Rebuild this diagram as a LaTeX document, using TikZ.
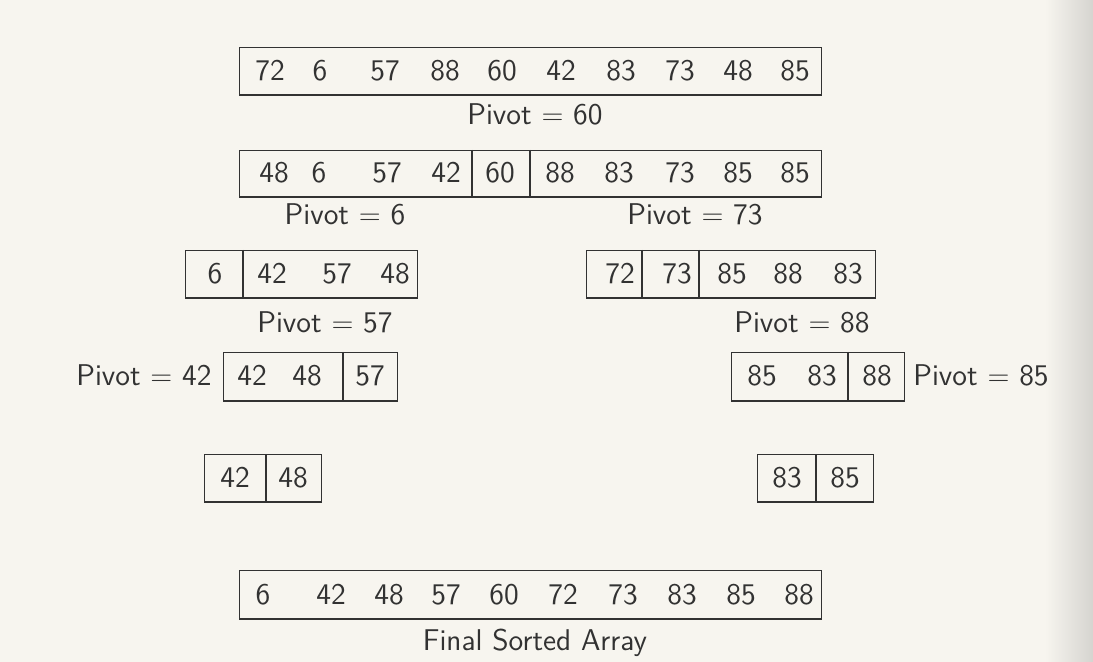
\documentclass[tikz,border=0pt]{standalone}
\definecolor{paper}{RGB}{247,245,239}
\definecolor{ink}{RGB}{50,50,50}
\begin{document}
\begin{tikzpicture}[x=0.5pt,y=-0.5pt,
  arr/.style={draw=ink, line width=0.65pt, inner sep=0pt, anchor=north west},
  num/.style={text=ink, font=\fontsize{15}{18}\sffamily, inner sep=0pt, anchor=base},
  lab/.style={text=ink, font=\fontsize{15}{18}\sffamily, inner sep=0pt, anchor=base},
  dv/.style={draw=ink, line width=0.6pt},
  btm/.style={draw=ink, line width=1.1pt}]
\fill[paper] (0,0) rectangle (1093,662);
\shade[left color=paper, right color=gray!28!paper] (1045,0) rectangle (1093,662);
\useasboundingbox (0,0) rectangle (1093,662);

% row 1
\node[arr, minimum width=291pt, minimum height=23.5pt] (b1) at (239,47) {};
\foreach \x/\t [count=\i] in {270/72,320/6,385/57,445/88,502/60,561/42,621/83,680/73,738/48,795/85}
  \node[num] (r1n\i) at (\x,80.5) {\t};
\node[lab] (p60) at (535,125) {Pivot $=$ 60};

% row 2
\node[arr, minimum width=291pt, minimum height=23pt] (b2) at (239,150) {};
\draw[dv] (b2.north -| 472,0) -- (b2.south -| 472,0);
\draw[dv] (b2.north -| 530,0) -- (b2.south -| 530,0);
\foreach \x/\t [count=\i] in {274/48,319/6,387/57,446/42,500/60,560/88,619/83,680/73,738/85,795/85}
  \node[num] (r2n\i) at (\x,183) {\t};
\node[lab] (p6) at (345,225) {Pivot $=$ 6};
\node[lab] (p73) at (695,225) {Pivot $=$ 73};

% row 3
\node[arr, minimum width=116pt, minimum height=23.5pt] (b3l) at (185,250) {};
\draw[dv] (b3l.north -| 243,0) -- (b3l.south -| 243,0);
\foreach \x/\t [count=\i] in {215/6,272/42,337/57,395/48}
  \node[num] (r3ln\i) at (\x,283.5) {\t};
\node[arr, minimum width=144.5pt, minimum height=23.5pt] (b3r) at (586,250) {};
\draw[dv] (b3r.north -| 642,0) -- (b3r.south -| 642,0);
\draw[dv] (b3r.north -| 699,0) -- (b3r.south -| 699,0);
\foreach \x/\t [count=\i] in {620/72,677/73,732/85,788/88,848/83}
  \node[num] (r3rn\i) at (\x,283.5) {\t};
\node[lab] (p57) at (325,333) {Pivot $=$ 57};
\node[lab] (p88) at (802,333) {Pivot $=$ 88};

% row 4
\node[arr, minimum width=87pt, minimum height=24pt] (b4l) at (223,352) {};
\draw[dv] (b4l.north -| 343,0) -- (b4l.south -| 343,0);
\foreach \x/\t [count=\i] in {252/42,307/48,370/57}
  \node[num] (r4ln\i) at (\x,386) {\t};
\node[lab, anchor=base east] (p42) at (212,386) {Pivot $=$ 42};
\node[arr, minimum width=86.5pt, minimum height=24pt] (b4r) at (731,352) {};
\draw[dv] (b4r.north -| 848,0) -- (b4r.south -| 848,0);
\foreach \x/\t [count=\i] in {762/85,822/83,877/88}
  \node[num] (r4rn\i) at (\x,386) {\t};
\node[lab, anchor=base west] (p85) at (913,386) {Pivot $=$ 85};

% row 5
\node[arr, minimum width=58.5pt, minimum height=23.5pt] (b5l) at (204,454) {};
\draw[dv] (b5l.north -| 266,0) -- (b5l.south -| 266,0);
\foreach \x/\t [count=\i] in {235/42,293/48}
  \node[num] (r5ln\i) at (\x,487.5) {\t};
\node[arr, minimum width=58pt, minimum height=23.5pt] (b5r) at (757,454) {};
\draw[dv] (b5r.north -| 816,0) -- (b5r.south -| 816,0);
\foreach \x/\t [count=\i] in {787/83,845/85}
  \node[num] (r5rn\i) at (\x,487.5) {\t};

% final
\node[arr, minimum width=291pt, minimum height=24pt] (b6) at (239,570) {};
\foreach \x/\t [count=\i] in {263/6,331/42,389/48,446/57,504/60,563/72,623/73,682/83,741/85,799/88}
  \node[num] (r6n\i) at (\x,604) {\t};
\node[lab] (fin) at (535,650) {Final Sorted Array};

% thicker bottom edges
\foreach \b in {b1,b2,b3l,b3r,b4l,b4r,b5l,b5r,b6}
  \draw[btm] (\b.south west) -- (\b.south east);
\end{tikzpicture}
\end{document}
